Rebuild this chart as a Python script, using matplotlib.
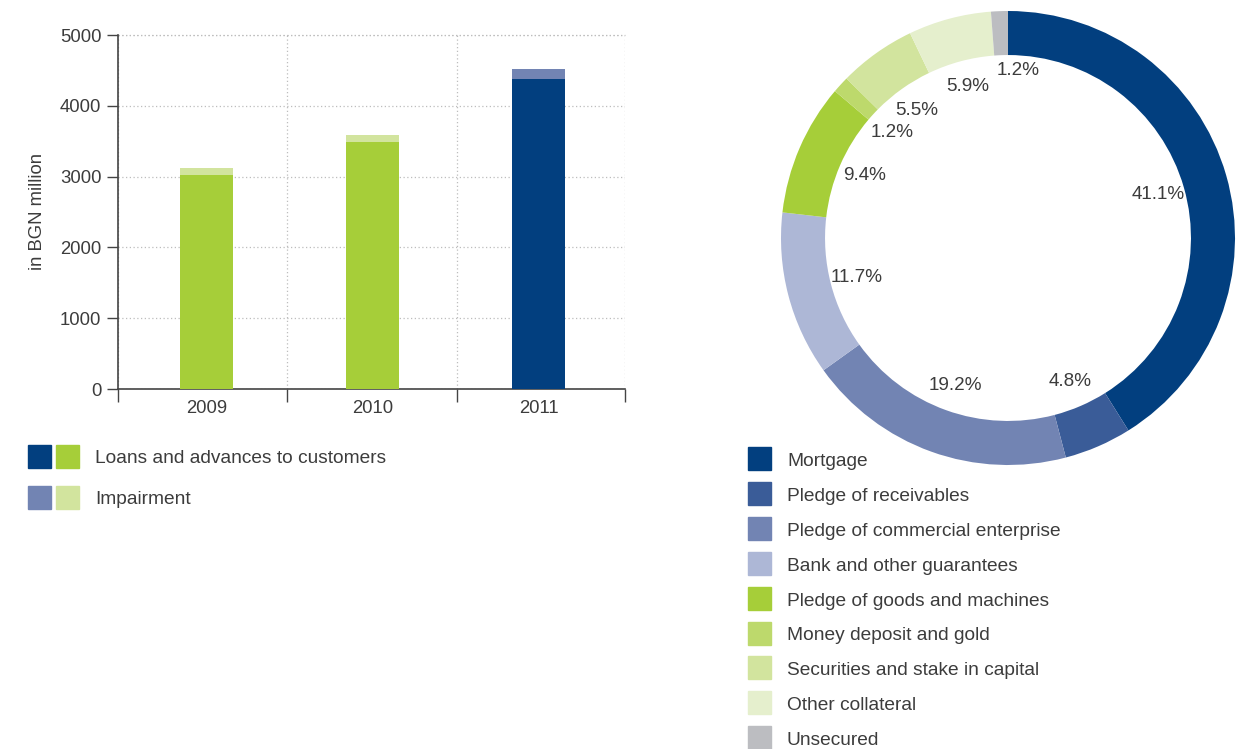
import matplotlib
matplotlib.use("Agg")
import matplotlib.pyplot as plt
from matplotlib.patches import Rectangle

# Loans and impairment by year (BGN million)
years = ["2009", "2010", "2011"]
loans = [3020, 3490, 4380]
impairment = [100, 100, 140]

# Collateral structure, 2011 (%)
collateral = [
    "Mortgage",
    "Pledge of receivables",
    "Pledge of commercial enterprise",
    "Bank and other guarantees",
    "Pledge of goods and machines",
    "Money deposit and gold",
    "Securities and stake in capital",
    "Other collateral",
    "Unsecured",
]
shares = [41.1, 4.8, 19.2, 11.7, 9.4, 1.2, 5.5, 5.9, 1.2]
share_colors = ["#023f7f", "#3a5c98", "#7284b3", "#adb7d6", "#a6ce39",
                "#bdd96c", "#d2e49e", "#e5efcd", "#bcbdc1"]

loan_colors = ["#a6ce39", "#a6ce39", "#023f7f"]
imp_colors = ["#d2e49e", "#d2e49e", "#7284b3"]

W, H = 1239, 749
TXT = "#3c3c3c"
plt.rcParams["font.family"] = ["Liberation Sans", "DejaVu Sans"]
plt.rcParams["font.size"] = 13


def box(x0, y0, w, h):
    """Pixel box (top-left origin) to figure fractions."""
    return [x0 / W, 1 - (y0 + h) / H, w / W, h / H]


fig = plt.figure(figsize=(W / 100, H / 100), dpi=100)

# ---- stacked bars ----
ax = fig.add_axes(box(118, 35, 507, 354))
x = range(len(years))
ax.bar(x, loans, width=0.32, color=loan_colors, zorder=3)
ax.bar(x, impairment, width=0.32, bottom=loans, color=imp_colors, zorder=3)
left, right = -0.535, 2.52
ax.set_xlim(left, right)
ax.set_ylim(0, 5000)
ax.set_yticks(range(0, 5001, 1000))
ax.set_xticks(list(x))
ax.set_xticklabels(years)
ax.set_xticks([left, 0.485, 1.505, right], minor=True)
ax.tick_params(axis="x", which="major", length=0, pad=8, colors=TXT, labelsize=13.3)
ax.tick_params(axis="x", which="minor", length=9, width=1, color="#444444")
ax.tick_params(axis="y", length=8, width=1, color="#444444", colors=TXT, labelsize=13.3, pad=4)
for s in ("top", "right"):
    ax.spines[s].set_visible(False)
for s in ("left", "bottom"):
    ax.spines[s].set_color("#444444")
    ax.spines[s].set_linewidth(1.2)
ax.grid(axis="y", which="major", color="#bdbdbd", linestyle=(0, (1, 2)), linewidth=0.9, zorder=0)
ax.grid(axis="x", which="minor", color="#bdbdbd", linestyle=(0, (1, 2)), linewidth=0.9, zorder=0)
ax.axhline(5000, color="#bdbdbd", linestyle=(0, (1, 2)), linewidth=0.9, clip_on=False)
ax.set_ylabel("in BGN million", color=TXT, fontsize=13.3, labelpad=10)

# bar legend
for row, label in enumerate(["Loans and advances to customers", "Impairment"]):
    y0 = 445 + row * 41
    pair = (loan_colors[2], loan_colors[0]) if row == 0 else (imp_colors[2], imp_colors[0])
    for k, c in enumerate(pair):
        fig.add_artist(Rectangle(box(28 + 28 * k, y0, 23, 23)[:2], 23 / W, 23 / H,
                                 transform=fig.transFigure, color=c))
    fig.text(95 / W, 1 - (y0 + 13.5) / H, label, va="center", ha="left", color=TXT, fontsize=13.8)

# ---- donut ----
ax2 = fig.add_axes(box(781, 11, 454, 454))
wedges, _, pct = ax2.pie(
    shares, colors=share_colors, startangle=90, counterclock=False,
    radius=1, wedgeprops=dict(width=0.194, linewidth=0),
    autopct=lambda p: f"{p:.1f}%", pctdistance=0.69,
    textprops=dict(color=TXT, fontsize=13.6),
)
# the last label sits just inside the small grey slice, clear of its neighbour
px, py = pct[-1].get_position()
pct[-1].set_position((px + 0.07, py + 0.05))
ax2.set_xlim(-1, 1)
ax2.set_ylim(-1, 1)
ax2.set_aspect("equal")
ax2.axis("off")

# donut legend
for i, (label, c) in enumerate(zip(collateral, share_colors)):
    y0 = 447 + i * 34.9
    fig.add_artist(Rectangle(box(748, y0, 23, 23)[:2], 23 / W, 23 / H,
                             transform=fig.transFigure, color=c))
    fig.text(787 / W, 1 - (y0 + 14.5) / H, label, va="center", ha="left", color=TXT, fontsize=13.8)

fig.savefig("out.png", dpi=100)
